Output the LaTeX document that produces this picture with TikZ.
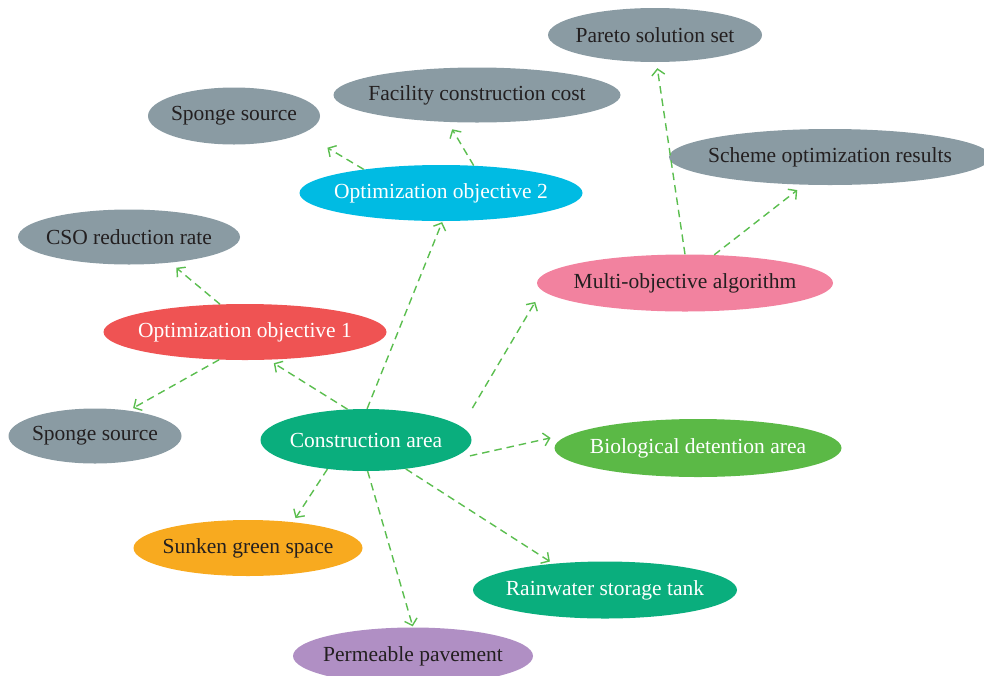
\documentclass[tikz,border=0pt]{standalone}
\usepackage{fontspec}
\setmainfont{Liberation Serif}
\usetikzlibrary{arrows.meta, shapes.geometric}
\definecolor{nodeGray}{HTML}{8A9BA3}
\definecolor{nodeBlue}{HTML}{00BBE3}
\definecolor{nodeRed}{HTML}{EF5353}
\definecolor{nodePink}{HTML}{F2829F}
\definecolor{nodeGreen}{HTML}{0AAE7D}
\definecolor{nodeLeaf}{HTML}{5BB946}
\definecolor{nodeYellow}{HTML}{F8AA1F}
\definecolor{nodePurple}{HTML}{B08FC4}
\definecolor{flowGreen}{HTML}{5BBE4F}
\definecolor{textDark}{HTML}{231F20}
\newcommand{\ctext}[1]{\makebox[0pt]{#1}}

\begin{document}
\begin{tikzpicture}[x=1pt, y=-1pt,
    blob/.style={ellipse, inner sep=0pt, font=\fontsize{21.5}{24}\selectfont, text=textDark},
    flow/.style={-{Straight Barb[length=6pt, width=13pt]}, flowGreen, line width=1.4pt, dash pattern=on 7.5pt off 5pt}]
    \useasboundingbox (0,0) rectangle (984,675);

    % 上段のノード
    \node[blob, fill=nodeGray, minimum width=214pt, minimum height=54pt] (pareto) at (655,35) {\ctext{Pareto solution set}};
    \node[blob, fill=nodeGray, minimum width=287pt, minimum height=55pt] (cost) at (477,95) {\ctext{Facility construction cost}};
    \node[blob, fill=nodeGray, minimum width=172pt, minimum height=57pt] (sponge1) at (234,116) {\ctext{Sponge source}};
    \node[blob, fill=nodeGray, minimum width=322pt, minimum height=56pt] (scheme) at (830,157) {\ctext{Scheme optimization results}};
    \node[blob, fill=nodeBlue, text=white, minimum width=283pt, minimum height=56pt] (opt2) at (441,193) {\ctext{Optimization objective 2}};
    \node[blob, fill=nodeGray, minimum width=222pt, minimum height=55pt] (cso) at (129,237) {\ctext{CSO reduction rate}};
    \node[blob, fill=nodePink, minimum width=296pt, minimum height=57pt] (moa) at (685,283) {\ctext{Multi-objective algorithm}};
    \node[blob, fill=nodeRed, text=white, minimum width=283pt, minimum height=56pt] (opt1) at (245,332) {\ctext{Optimization objective 1}};
    \node[blob, fill=nodeGray, minimum width=173pt, minimum height=55pt] (sponge2) at (95,436) {\ctext{Sponge source}};

    % 中心と下段のノード
    \node[blob, fill=nodeGreen, text=white, minimum width=211pt, minimum height=62pt] (ca) at (366,440) {\ctext{Construction area}};
    \node[blob, fill=nodeLeaf, text=white, minimum width=287pt, minimum height=58pt] (bio) at (698,448) {\ctext{Biological detention area}};
    \node[blob, fill=nodeYellow, minimum width=229pt, minimum height=56pt] (sunken) at (248,548) {\ctext{Sunken green space}};
    \node[blob, fill=nodeGreen, text=white, minimum width=264pt, minimum height=57pt] (tank) at (605,590) {\ctext{Rainwater storage tank}};
    \node[blob, fill=nodePurple, minimum width=240pt, minimum height=57pt] (perm) at (413,656) {\ctext{Permeable pavement}};

    % 建設エリアからの矢印
    \draw[flow, shorten >=6.4pt] (ca.121.5) -- (opt1.-50.7);
    \draw[flow, shorten >=1pt] (ca.88) -- (opt2.-87.1);
    \draw[flow, shorten <=21.5pt, shorten >=13.3pt] (ca.8.2) -- (moa.183.5);
    \draw[flow, shorten <=36pt, shorten >=30pt] (ca.-19) -- (bio.172);
    \draw[flow, shorten >=4.7pt] (ca.217.4) -- (sunken.30.2);
    \draw[flow, shorten >=1pt] (ca.-87.7) -- (perm.90.6);
    \draw[flow, shorten >=3.9pt] (ca.-36.2) -- (tank.153.2);

    % 目的・アルゴリズムからの矢印
    \draw[flow, shorten >=7.9pt] (opt1.132.9) -- (cso.-32.8);
    \draw[flow, shorten >=4.9pt] (opt1.-133.6) -- (sponge2.37.1);
    \draw[flow, shorten >=28.4pt] (opt2.163.4) -- (sponge1.-14.7);
    \draw[flow, shorten >=8.3pt] (opt2.40.9) -- (cost.-137.9);
    \draw[flow, shorten >=6pt] (moa.90) -- (pareto.-87.7);
    \draw[flow, shorten >=8.6pt] (moa.44) -- (scheme.-133.7);
\end{tikzpicture}
\end{document}
